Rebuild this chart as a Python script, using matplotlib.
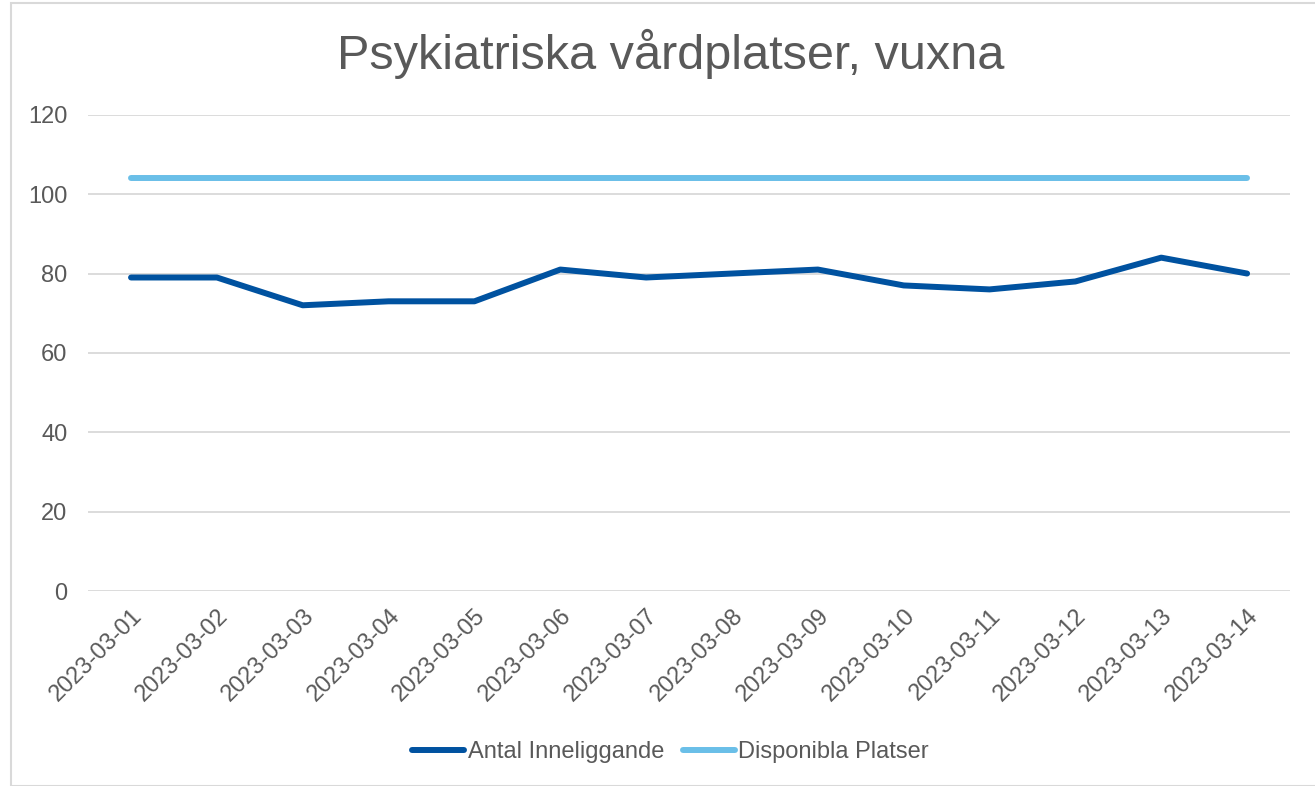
import matplotlib
matplotlib.use("Agg")
import matplotlib.pyplot as plt
from matplotlib.patches import Rectangle

dates = ["2023-03-01", "2023-03-02", "2023-03-03", "2023-03-04", "2023-03-05",
         "2023-03-06", "2023-03-07", "2023-03-08", "2023-03-09", "2023-03-10",
         "2023-03-11", "2023-03-12", "2023-03-13", "2023-03-14"]
inneliggande = [79, 79, 72, 73, 73, 81, 79, 80, 81, 77, 76, 78, 84, 80]
platser = [104] * 14

plt.rcParams["font.family"] = ["Liberation Sans", "DejaVu Sans"]
TXT = "#595959"

fig = plt.figure(figsize=(13.15, 7.86), dpi=100)
ax = fig.add_axes([0.067, 0.248, 0.914, 0.606])

# chart frame
fig.patches.append(Rectangle((11 / 1315, 0), 1.0, 1 - 3 / 786, transform=fig.transFigure,
                             fill=False, edgecolor="#D9D9D9", linewidth=1.5))

x = list(range(len(dates)))
ax.plot(x, inneliggande, color="#0052A0", linewidth=4.3, solid_capstyle="round",
        solid_joinstyle="round", label="Antal Inneliggande", zorder=3)
ax.plot(x, platser, color="#6ABFE8", linewidth=4.3, solid_capstyle="round",
        label="Disponibla Platser", zorder=3)

ax.set_xlim(-0.5, len(dates) - 0.5)
ax.set_ylim(0, 120)
ax.set_yticks(range(0, 121, 20))
ax.set_xticks(x)
ax.set_xticklabels(dates, rotation=45, ha="right", rotation_mode="anchor")
ax.tick_params(axis="both", length=0, labelsize=17, colors=TXT)
ax.tick_params(axis="y", pad=15)
ax.tick_params(axis="x", pad=10)
for s in ax.spines.values():
    s.set_visible(False)
ax.grid(axis="y", color="#D9D9D9", linewidth=1.3)
ax.set_axisbelow(True)

fig.text(0.51, 0.932, "Psykiatriska vårdplatser, vuxna", ha="center", va="center",
         fontsize=35, color=TXT)

leg = fig.legend(loc="center", bbox_to_anchor=(0.51, 0.043), ncol=2, frameon=False,
                 fontsize=17, handlelength=2.2, handletextpad=0.15, columnspacing=0.8)
for t in leg.get_texts():
    t.set_color(TXT)

fig.savefig("out.png", dpi=100)
